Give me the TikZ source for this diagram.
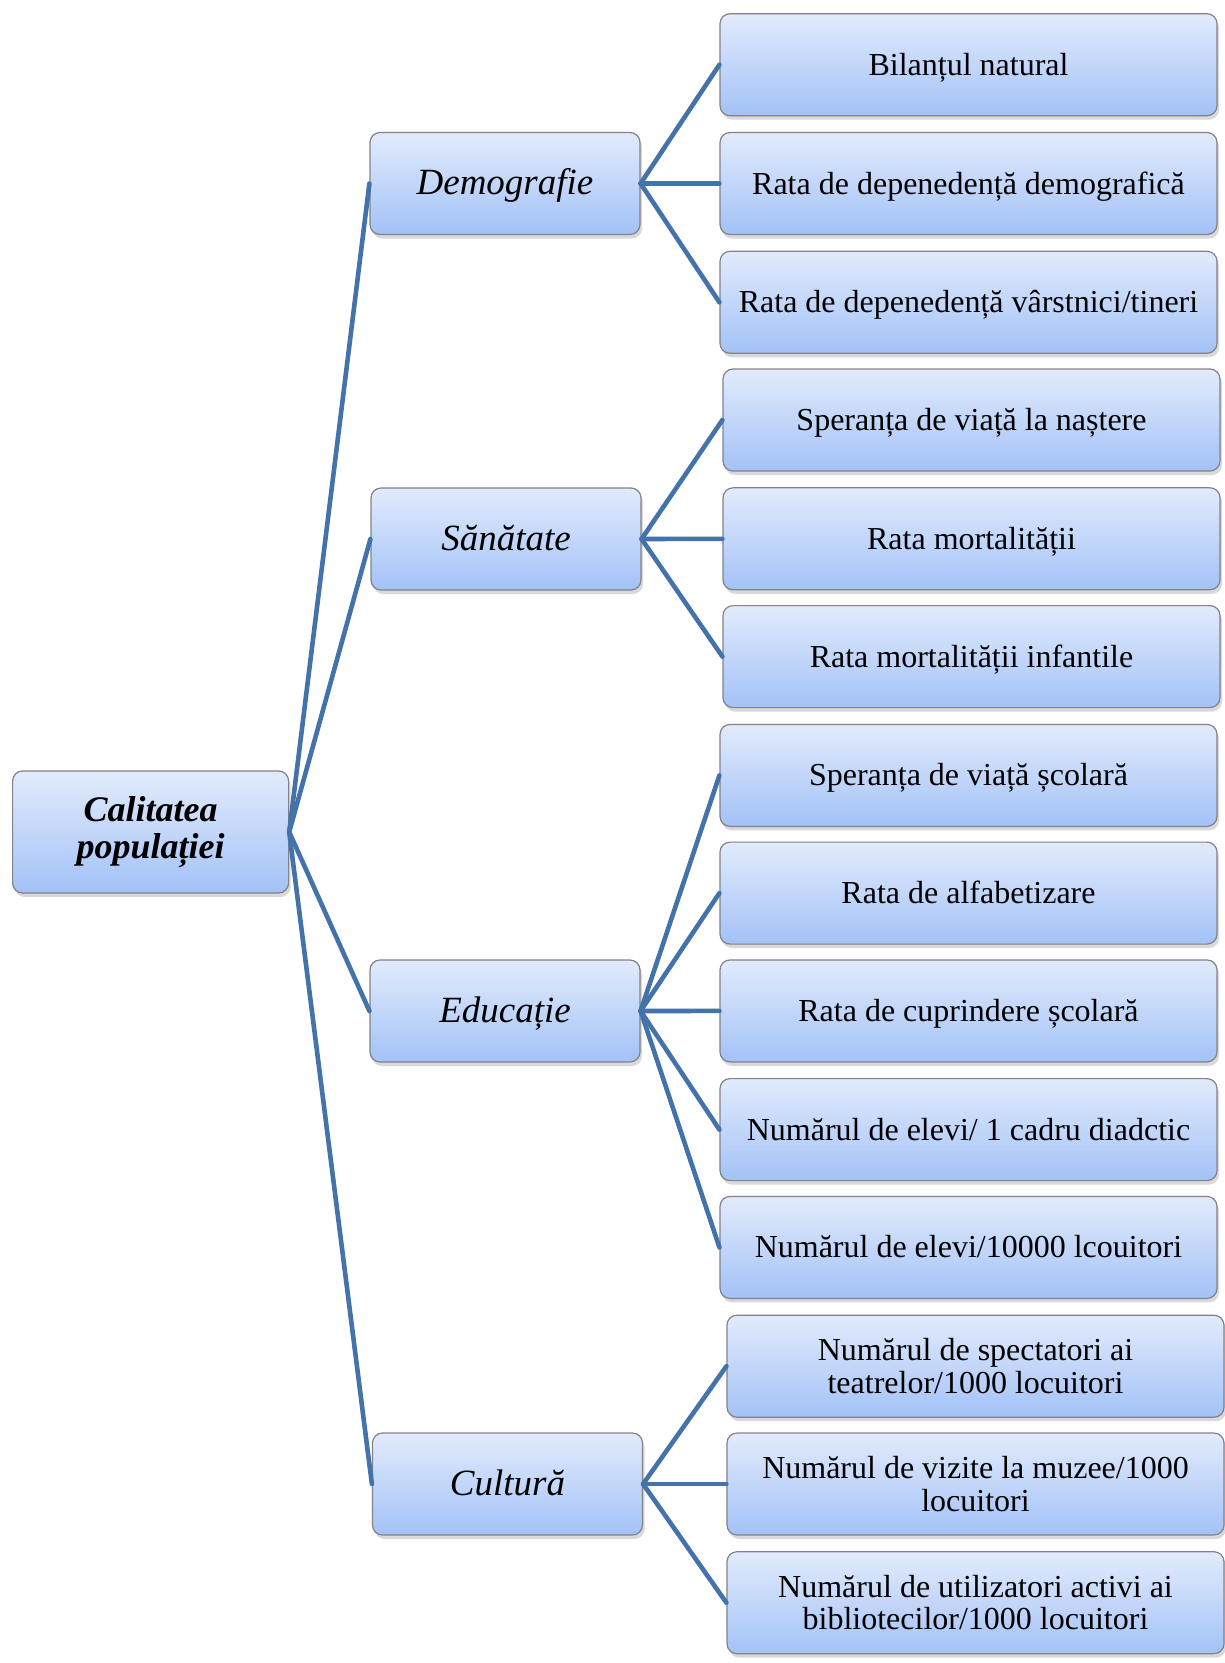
\documentclass[tikz,border=0pt]{standalone}
\usepackage{fontspec}
\setmainfont{Liberation Serif}
\usetikzlibrary{shadows}
\definecolor{boxtop}{RGB}{226,235,252}
\definecolor{boxbot}{RGB}{163,194,247}
\definecolor{boxline}{RGB}{130,130,135}
\definecolor{linkblue}{RGB}{68,114,170}
\begin{document}
\begin{tikzpicture}[x=1pt,y=-1pt,
	box/.style={draw=boxline,line width=1.2pt,rounded corners=10pt,
		top color=boxtop,bottom color=boxbot,minimum height=102pt,
		align=center,inner sep=2pt,
		drop shadow={opacity=0.3,shadow xshift=2pt,shadow yshift=-4pt}},
	rootbox/.style={box,minimum width=276pt,minimum height=122pt,font=\fontsize{36}{37}\selectfont\bfseries\itshape},
	midbox/.style={box,minimum width=270pt,text height=30pt,text depth=8pt,font=\fontsize{37}{38}\selectfont\itshape},
	leafbox/.style={box,minimum width=497pt,text height=28pt,text depth=7pt,font=\fontsize{32}{32.5}\selectfont},
	leaftwo/.style={box,minimum width=497pt,font=\fontsize{32}{32.5}\selectfont},
	link/.style={linkblue,line width=4.6pt,line cap=round,line join=round}]
	\useasboundingbox (0,0) rectangle (1224,1663);
	% root and first level
	\node[rootbox] (root) at (150.6,832) {Calitatea\\populației};
	\node[midbox] (demo) at (505,183.5) {Demografie};
	\node[midbox] (san) at (506,539) {Sănătate};
	\node[midbox] (edu) at (505,1011) {Educație};
	\node[midbox] (cul) at (507.5,1484) {Cultură};
	% leaves
	\node[leafbox] (d1) at (968.5,64.7) {Bilanțul natural};
	\node[leafbox] (d2) at (968.5,183.5) {Rata de depenedență demografică};
	\node[leafbox] (d3) at (968.5,302.3) {Rata de depenedență vârstnici/tineri};
	\node[leafbox] (s1) at (971.5,420) {Speranța de viață la naștere};
	\node[leafbox] (s2) at (971.5,538.8) {Rata mortalității};
	\node[leafbox] (s3) at (971.5,656.6) {Rata mortalității infantile};
	\node[leafbox] (e1) at (968.5,775.4) {Speranța de viață școlară};
	\node[leafbox] (e2) at (968.5,893.1) {Rata de alfabetizare};
	\node[leafbox] (e3) at (968.5,1010.9) {Rata de cuprindere școlară};
	\node[leafbox] (e4) at (968.5,1129.6) {Numărul de elevi/ 1 cadru diadctic};
	\node[leafbox] (e5) at (968.5,1247.4) {Numărul de elevi/10000 lcouitori};
	\node[leaftwo] (c1) at (975.5,1366.2) {Numărul de spectatori ai\\teatrelor/1000 locuitori};
	\node[leaftwo] (c2) at (975.5,1484) {Numărul de vizite la muzee/1000\\locuitori};
	\node[leaftwo] (c3) at (975.5,1602.7) {Numărul de utilizatori activi ai\\bibliotecilor/1000 locuitori};
	% connectors
	\foreach \m in {demo,san,edu,cul} \draw[link] (root.east) -- (\m.west);
	\foreach \l in {d1,d2,d3} \draw[link] (demo.east) -- (\l.west);
	\foreach \l in {s1,s2,s3} \draw[link] (san.east) -- (\l.west);
	\foreach \l in {e1,e2,e3,e4,e5} \draw[link] (edu.east) -- (\l.west);
	\foreach \l in {c1,c2,c3} \draw[link] (cul.east) -- (\l.west);
\end{tikzpicture}
\end{document}
